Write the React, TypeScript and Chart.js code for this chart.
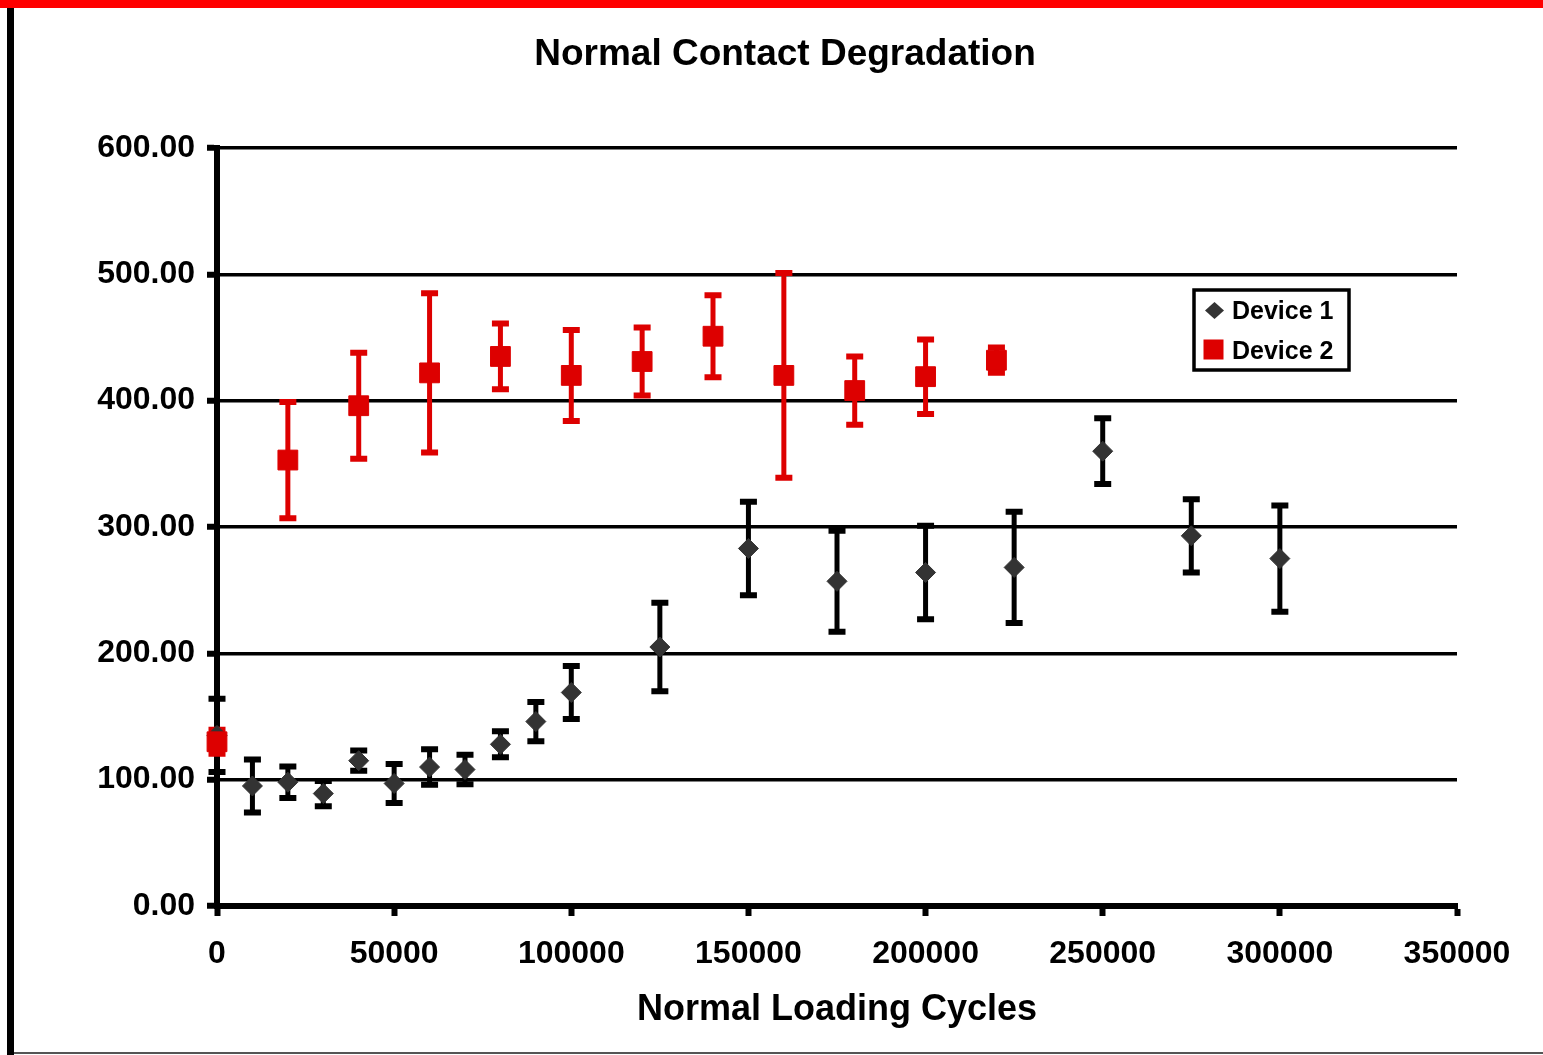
import React, { useEffect, useRef } from 'react';
import { Chart, registerables } from 'chart.js';

Chart.register(...registerables);

// ---------- data ----------
const chartTitle = 'Normal Contact Degradation';
const xAxisTitle = 'Normal Loading Cycles';
const seriesNames = ['Device 1', 'Device 2'];

const device1Cycles = [0, 10000, 20000, 30000, 40000, 50000, 60000, 70000, 80000, 90000, 100000, 125000, 150000, 175000, 200000, 225000, 250000, 275000, 300000];
const device1Values = [135, 95, 98, 89, 115, 97, 110, 108, 128, 146, 169, 205, 283, 257, 264, 268, 360, 293, 275];
const device1Errors = [29, 21, 12.5, 10, 8, 15.5, 14, 11.7, 10.3, 15.5, 21, 35, 37, 40, 37, 44, 26, 29, 42];

const device2Cycles = [0, 20000, 40000, 60000, 80000, 100000, 120000, 140000, 160000, 180000, 200000, 220000];
const device2Values = [130, 353, 396, 422, 435, 420, 431, 451, 420, 408, 419, 432];
const device2Errors = [9.5, 46, 42, 63, 26, 36, 27, 32.5, 81, 27, 29.5, 10];

const xTickValues = [0, 50000, 100000, 150000, 200000, 250000, 300000, 350000];
const yTickValues = [0, 100, 200, 300, 400, 500, 600];

// ---------- styles ----------
const FONT = '"Liberation Sans", Arial, sans-serif';
const D1_COLOR = '#333333';
const D1_BAR = '#000000';
const D2_COLOR = '#dd0000';
const CANVAS_LEFT = 14;
const CANVAS_TOP = 8;
const CANVAS_W = 1529;
const CANVAS_H = 1044;

const errorSets = [device1Errors, device2Errors];
const errorColors = [D1_BAR, D2_COLOR];

const errorBarPlugin = {
  id: 'errorBars',
  beforeDatasetsDraw(chart: any) {
    const { ctx } = chart;
    const xs = chart.scales.x;
    const ys = chart.scales.y;
    errorSets.forEach((errs, di) => {
      const ds = chart.data.datasets[di];
      ctx.save();
      ctx.strokeStyle = errorColors[di];
      ctx.lineCap = 'butt';
      ds.data.forEach((p: any, j: number) => {
        const px = xs.getPixelForValue(p.x);
        const yt = ys.getPixelForValue(p.y + errs[j]);
        const yb = ys.getPixelForValue(p.y - errs[j]);
        ctx.lineWidth = 5;
        ctx.beginPath();
        ctx.moveTo(px, yt);
        ctx.lineTo(px, yb);
        ctx.stroke();
        ctx.lineWidth = 6;
        ctx.beginPath();
        ctx.moveTo(px - 8.5, yt);
        ctx.lineTo(px + 8.5, yt);
        ctx.moveTo(px - 8.5, yb);
        ctx.lineTo(px + 8.5, yb);
        ctx.stroke();
      });
      ctx.restore();
    });
  },
};

const decorPlugin = {
  id: 'decor',
  afterDraw(chart: any) {
    const { ctx } = chart;
    ctx.save();
    // title
    ctx.fillStyle = '#000';
    ctx.font = `bold 37px ${FONT}`;
    ctx.textAlign = 'center';
    ctx.textBaseline = 'alphabetic';
    ctx.fillText(chartTitle, 785 - CANVAS_LEFT, 65 - CANVAS_TOP);

    // legend box
    const bx = 1194 - CANVAS_LEFT;
    const by = 290 - CANVAS_TOP;
    const bw = 155;
    const bh = 80;
    ctx.fillStyle = '#fff';
    ctx.fillRect(bx, by, bw, bh);
    ctx.strokeStyle = '#000';
    ctx.lineWidth = 3.5;
    ctx.strokeRect(bx, by, bw, bh);

    // diamond
    const dx = 1214.5 - CANVAS_LEFT;
    const dy = 310.5 - CANVAS_TOP;
    ctx.fillStyle = D1_COLOR;
    ctx.beginPath();
    ctx.moveTo(dx - 9.5, dy);
    ctx.lineTo(dx, dy - 8.5);
    ctx.lineTo(dx + 9.5, dy);
    ctx.lineTo(dx, dy + 8.5);
    ctx.closePath();
    ctx.fill();

    // square
    const sx = 1213.5 - CANVAS_LEFT;
    const sy = 349.5 - CANVAS_TOP;
    ctx.fillStyle = D2_COLOR;
    ctx.fillRect(sx - 10, sy - 10, 20, 20);

    ctx.fillStyle = '#000';
    ctx.font = `bold 25px ${FONT}`;
    ctx.textAlign = 'left';
    ctx.fillText(seriesNames[0], 1232 - CANVAS_LEFT, 319 - CANVAS_TOP);
    ctx.fillText(seriesNames[1], 1232 - CANVAS_LEFT, 359 - CANVAS_TOP);
    ctx.restore();
  },
};

export default function App() {
  const ref = useRef<HTMLCanvasElement | null>(null);

  useEffect(() => {
    if (!ref.current) return;
    const chart = new Chart(ref.current, {
      type: 'scatter',
      data: {
        datasets: [
          {
            label: seriesNames[0],
            data: device1Cycles.map((c, i) => ({ x: c, y: device1Values[i] })),
            pointStyle: 'rectRot',
            pointRadius: 10,
            pointHoverRadius: 10,
            backgroundColor: D1_COLOR,
            borderColor: D1_COLOR,
            borderWidth: 1,
            showLine: false,
            clip: false,
            order: 1,
          },
          {
            label: seriesNames[1],
            data: device2Cycles.map((c, i) => ({ x: c, y: device2Values[i] })),
            pointStyle: 'rect',
            pointRadius: 14,
            pointHoverRadius: 14,
            backgroundColor: D2_COLOR,
            borderColor: D2_COLOR,
            borderWidth: 1,
            showLine: false,
            clip: false,
            order: 0,
          },
        ] as any,
      },
      options: {
        animation: false,
        responsive: false,
        events: [],
        layout: { padding: { top: 140, right: 86, left: 0, bottom: 0 } },
        plugins: {
          legend: { display: false },
          title: { display: false },
          tooltip: { enabled: false },
        },
        scales: {
          x: {
            type: 'linear',
            min: 0,
            max: 350000,
            afterBuildTicks: (s: any) => {
              s.ticks = xTickValues.map((v) => ({ value: v }));
            },
            afterFit: (s: any) => {
              s.height = 146;
            },
            ticks: {
              color: '#000',
              font: { family: FONT, size: 32, weight: 'bold' },
              padding: 19,
              maxRotation: 0,
              autoSkip: false,
              callback: (v: any) => String(v),
            },
            grid: {
              display: true,
              drawOnChartArea: false,
              drawTicks: true,
              tickLength: 10,
              tickWidth: 6,
              tickColor: '#000',
              color: '#000',
            },
            border: { display: true, color: '#000', width: 6 },
            title: {
              display: true,
              text: xAxisTitle,
              color: '#000',
              font: { family: FONT, size: 36, weight: 'bold' },
              padding: { top: 0, bottom: 20 },
            },
          },
          y: {
            type: 'linear',
            min: 0,
            max: 600,
            afterBuildTicks: (s: any) => {
              s.ticks = yTickValues.map((v) => ({ value: v }));
            },
            afterFit: (s: any) => {
              s.width = 203;
            },
            ticks: {
              color: '#000',
              font: { family: FONT, size: 32, weight: 'bold' },
              padding: 12,
              callback: (v: any) => Number(v).toFixed(2),
            },
            grid: {
              display: true,
              color: '#000',
              lineWidth: 3.5,
              drawTicks: true,
              tickLength: 10,
              tickWidth: 6,
              tickColor: '#000',
            },
            border: { display: true, color: '#000', width: 6 },
          },
        },
      },
      plugins: [errorBarPlugin, decorPlugin],
    } as any);
    return () => chart.destroy();
  }, []);

  return (
    <div style={{ position: 'absolute', left: 0, top: 0, width: 1543, height: 1055, background: '#fff', overflow: 'hidden' }}>
      <div style={{ position: 'absolute', left: 0, top: 0, width: 1543, height: 8, background: '#ff0000' }} />
      <div style={{ position: 'absolute', left: 7, top: 8, width: 7, height: 1047, background: '#000' }} />
      <div style={{ position: 'absolute', left: 14, top: 1052, width: 1529, height: 2, background: '#555' }} />
      <canvas
        ref={ref}
        width={CANVAS_W}
        height={CANVAS_H}
        style={{ position: 'absolute', left: CANVAS_LEFT, top: CANVAS_TOP, width: CANVAS_W, height: CANVAS_H }}
      />
    </div>
  );
}
